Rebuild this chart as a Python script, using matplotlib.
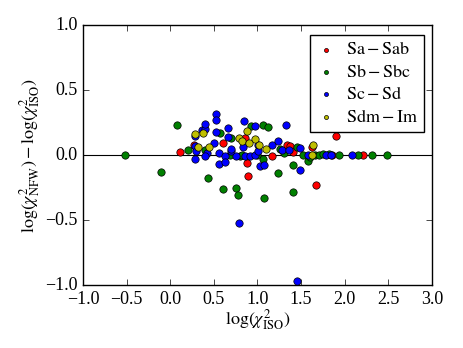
import matplotlib
matplotlib.use("Agg")
import matplotlib.pyplot as plt
import numpy as np

# log(chi2_ISO), log(chi2_NFW) - log(chi2_ISO) per morphological group
sa_x = [0.115, 0.276, 0.61, 0.857, 0.88, 0.887, 1.17, 1.338, 1.37, 1.41,
        1.63, 1.667, 1.90, 1.85, 2.21]
sa_y = [0.023, 0.075, 0.095, 0.13, -0.06, -0.164, -0.008, 0.077, 0.07, 0.023,
        0.064, -0.228, 0.146, 0.0, 0.0]

sb_x = [-0.52, 0.08, -0.10, 0.20, 0.40, 0.43, 0.57, 0.60, 0.70, 0.75,
        0.78, 0.925, 1.066, 1.12, 1.26, 1.31, 1.456, 1.58, 1.41, 1.235,
        1.41, 1.08, 1.06, 0.80, 0.69, 0.82, 1.00, 1.66, 1.70, 1.75,
        1.82, 1.93, 2.15, 2.31, 2.48, 1.60, 1.52]
sb_y = [0.0, 0.23, -0.13, 0.04, 0.04, -0.18, 0.17, -0.26, 0.133, -0.25,
        -0.31, 0.22, 0.233, 0.215, 0.05, 0.013, 0.064, -0.044, -0.074, -0.136,
        -0.287, -0.333, -0.03, -0.008, 0.0, 0.0, 0.0, 0.0, 0.0, 0.01,
        0.01, 0.0, 0.0, 0.0, 0.0, -0.013, 0.0]

sc_x = [0.28, 0.29, 0.30, 0.28, 0.36, 0.40, 0.40, 0.42, 0.40, 0.505,
        0.52, 0.53, 0.53, 0.56, 0.56, 0.63, 0.63, 0.66, 0.665, 0.70,
        0.70, 0.845, 0.84, 0.97, 0.76, 0.86, 0.91, 0.97, 1.01, 1.01,
        1.03, 1.075, 1.17, 1.235, 1.285, 1.357, 1.327, 1.49, 1.49, 1.58,
        1.79, 1.84, 2.08, 0.79, 1.45]
sc_y = [0.146, 0.07, 0.03, -0.03, 0.19, 0.20, 0.24, 0.013, -0.008, 0.09,
        0.315, 0.27, 0.175, 0.018, -0.07, -0.005, -0.05, 0.136, 0.21, 0.03,
        0.05, 0.264, 0.06, 0.225, -0.01, -0.01, -0.01, 0.0, 0.077, 0.03,
        -0.082, -0.077, 0.074, 0.108, 0.04, 0.04, 0.233, 0.052, -0.115, 0.0,
        0.0, 0.0, 0.0, -0.52, -0.97]

sd_x = [0.28, 0.32, 0.38, 0.45, 0.785, 0.82, 0.876, 0.97, 0.90, 1.017,
        1.10, 1.64, 1.62]
sd_y = [0.16, 0.064, 0.17, 0.06, 0.128, 0.11, 0.187, 0.12, 0.09, 0.074,
        0.049, 0.08, 0.0]

plt.style.use("classic")
plt.rcParams["font.family"] = "serif"
plt.rcParams["font.serif"] = ["Liberation Serif", "DejaVu Serif"]
plt.rcParams["mathtext.fontset"] = "stix"
plt.rcParams["font.size"] = 13

fig = plt.figure(figsize=(4.63, 3.48), dpi=100, facecolor="white")
ax = fig.add_axes([0.179, 0.181, 0.754, 0.747])

ax.axhline(0, color="k", lw=0.8, zorder=1)
ax.scatter(sa_x, sa_y, c="r", s=28, lw=0.5, label=r"$\mathrm{Sa-Sab}$", zorder=3)
ax.scatter(sb_x, sb_y, c="g", s=28, lw=0.5, label=r"$\mathrm{Sb-Sbc}$", zorder=3)
ax.scatter(sc_x, sc_y, c="b", s=28, lw=0.5, label=r"$\mathrm{Sc-Sd}$", zorder=3)
ax.scatter(sd_x, sd_y, c="y", s=28, lw=0.5, label=r"$\mathrm{Sdm-Im}$", zorder=3)

ax.set_xlim(-1.0, 3.0)
ax.set_ylim(-1.0, 1.0)
ax.set_xticks(np.arange(-1.0, 3.01, 0.5))
ax.set_yticks(np.arange(-1.0, 1.01, 0.5))
ax.set_xlabel(r"$\log(\chi^2_{\rm ISO})$", labelpad=0)
ax.set_ylabel(r"$\log(\chi^2_{\rm NFW})-\log(\chi^2_{\rm ISO})$", labelpad=2)
ax.legend(loc="upper right", bbox_to_anchor=(0.978, 0.9615), borderaxespad=0,
          scatterpoints=1, markerscale=0.55, fontsize=13, handlelength=1.0,
          handletextpad=0.6, borderpad=0.35, labelspacing=0.3)

fig.savefig("out.png", dpi=100, facecolor="white")
